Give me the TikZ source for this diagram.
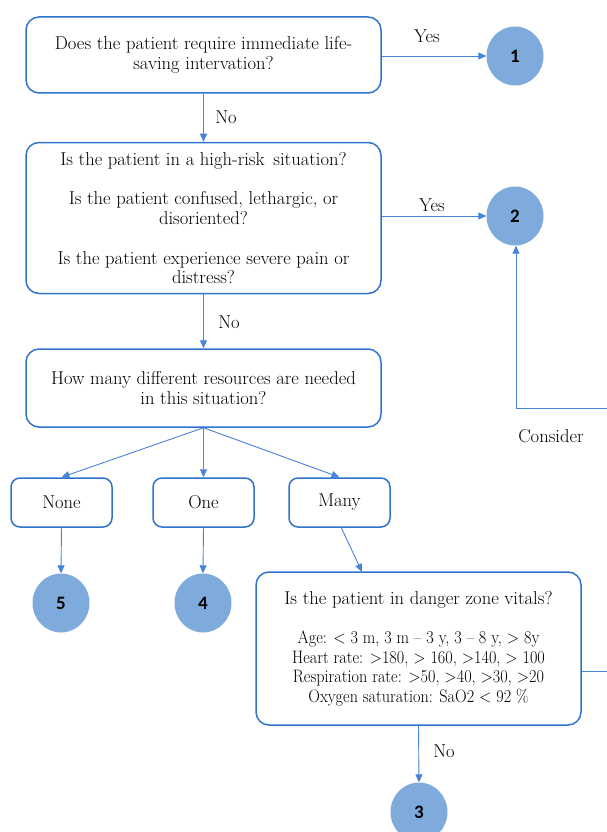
\documentclass[tikz,border=0pt]{standalone}
\usepackage{fontspec}
\newfontfamily\numfont{Carlito}
\newfontfamily\condfont{Latin Modern Roman}[FakeStretch=0.9, Ligatures=TeX]
\usetikzlibrary{shapes.geometric,arrows.meta}
\definecolor{boxblue}{HTML}{2E74CF}
\definecolor{linkblue}{HTML}{4683DB}
\definecolor{dotfill}{HTML}{7FAADC}
\newcommand{\qfont}{\fontsize{18.6}{19.8}\selectfont}
\newcommand{\vfont}{\condfont\fontsize{18}{19.6}\selectfont}
\tikzset{
  qbox/.style={draw=boxblue, line width=1.5pt, rounded corners=13pt, fill=white,
    align=center, inner sep=0pt, font=\qfont},
  optbox/.style={draw=boxblue, line width=1.5pt, rounded corners=9pt, fill=white,
    minimum width=101pt, minimum height=49pt, inner sep=0pt, font=\qfont},
  dot/.style={ellipse, fill=dotfill, draw=none, minimum width=57pt, minimum height=59pt,
    inner sep=0pt, font=\numfont\bfseries\fontsize{19}{19}\selectfont},
  link/.style={draw=linkblue, line width=0.9pt, -{Triangle[length=8pt,width=7pt]}},
  plain/.style={draw=linkblue, line width=0.9pt},
  lbl/.style={font=\qfont, inner sep=0pt}
}
\begin{document}
\begin{tikzpicture}[x=1pt, y=-1pt]
\useasboundingbox (0,0) rectangle (607,832);

% question boxes
\node[qbox, minimum width=355pt, minimum height=76pt] (b1) at (203.5,55)
  {Does the patient require immediate life-\\saving intervation?};
\node[qbox, minimum width=355pt, minimum height=151pt] (b2) at (203.5,218)
  {Is the patient in a high-risk\, situation?\\[19.8pt]
   Is the patient confused, lethargic, or\\disoriented?\\[19.8pt]
   Is the patient experience severe pain or\\distress?};
\node[qbox, minimum width=355pt, minimum height=78pt] (b3) at (203.5,388)
  {How many different resources are needed\\in this situation?};

% resource options
\node[optbox] (none) at (61.5,502.5) {None};
\node[optbox] (one) at (203.5,502.5) {One};
\node[optbox] (many) at (339.5,502.5) {Many};

% vital signs box
\node[qbox, font=\vfont, minimum width=325pt, minimum height=153pt] (vit) at (418.5,648.5)
  {{\rmfamily\qfont Is the patient in danger zone vitals?}\\[19.6pt]
   Age: < 3 m, 3 m – 3 y, 3 – 8 y, > 8y\\
   Heart rate: >180, > 160, >140, > 100\\
   Respiration rate: >50, >40, >30, >20\\
   Oxygen saturation: SaO2 < 92 \%};

% levels
\node[dot] (c1) at (515,56) {1};
\node[dot] (c2) at (515,216) {2};
\node[dot] (c5) at (61,603) {5};
\node[dot] (c4) at (203,603) {4};
\node[dot] (c3) at (419,812) {3};

% connectors
\draw[link] (b1.south) -- (b2.north);
\node[lbl] (no1) at (226,117) {No};
\draw[link] (b1.east |- c1.west) -- (c1.west);
\node[lbl] (yes1) at (427,36) {Yes};
\draw[link] (b2.east |- c2.west) -- (c2.west);
\node[lbl] (yes2) at (432,205) {Yes};
\draw[link] (b2.south) -- (b3.north);
\node[lbl] (no2) at (229,322) {No};

\draw[link] (b3.south) -- (none.north);
\draw[link] (b3.south) -- (one.north);
\draw[link] (b3.south) -- (many.north);

\draw[link] (none.south) -- (c5.north);
\draw[link] (one.south) -- (c4.north);
\coordinate (vtop) at (362,572);
\draw[link] (341,527) -- (vtop);

\draw[link] (vit.south) -- (c3.north);
\node[lbl] (no3) at (444,751) {No};

% return path to level 2
\coordinate (vexit) at (607,671);
\draw[plain] (vit.east |- vexit) -- (vexit);
\coordinate (bend) at (516,408);
\coordinate (rexit) at (607,408);
\draw[link] (rexit) -- (bend) -- (c2.south -| bend);
\node[lbl] (consider) at (551,436) {Consider};
\end{tikzpicture}
\end{document}
